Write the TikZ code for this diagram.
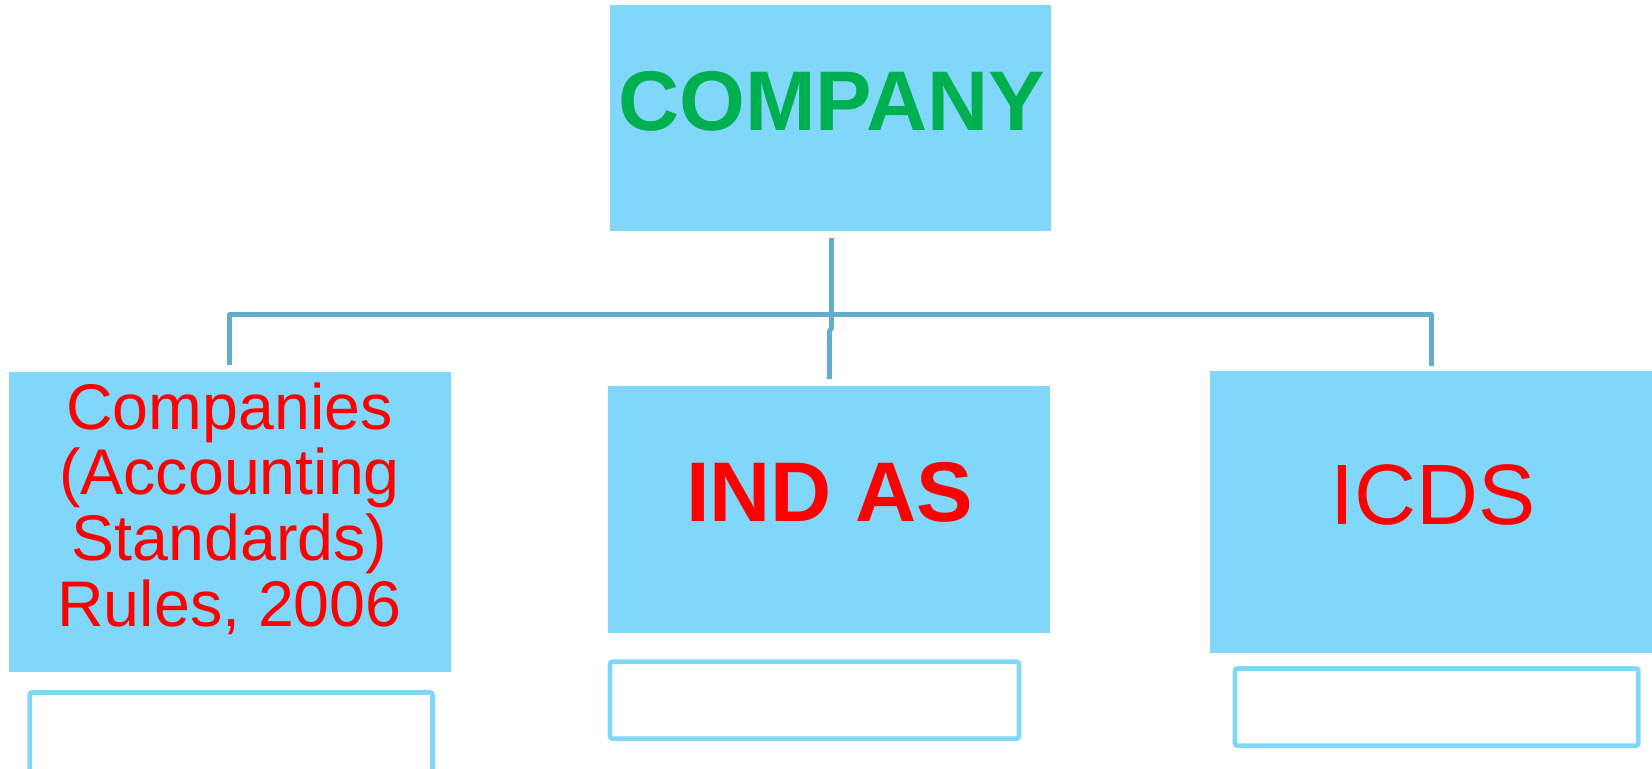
\documentclass[tikz,border=0pt]{standalone}
\usepackage{fontspec}
\setmainfont{Liberation Sans}
\usepackage{xcolor}
\usetikzlibrary{positioning}

\definecolor{boxblue}{RGB}{128,215,250}
\definecolor{linkblue}{RGB}{100,172,204}
\definecolor{headgreen}{RGB}{0,176,80}
\definecolor{textred}{RGB}{255,0,0}

\begin{document}
\begin{tikzpicture}[x=0.02cm, y=-0.02cm,
        box/.style={rectangle, fill=boxblue, inner sep=0pt, minimum width=8.84cm},
        note/.style={rectangle, draw=boxblue, line width=2.66pt, rounded corners=1.5pt, fill=white, inner sep=0pt},
        big/.style={font={\fontsize{48.2pt}{52pt}\selectfont}, anchor=base, inner sep=0pt},
        link/.style={draw=linkblue, line width=2.83pt, line join=round}
    ]
    \useasboundingbox (0,0) rectangle (1652,768);
    \clip (0,0) rectangle (1652,768);

    % Top box
    \node[box, minimum height=4.51cm] (company) at (830.5,118) {};
    \node[big, text=headgreen] (companytxt) at (831.5,130.7) {\bfseries COMPANY};

    % Lower boxes
    \node[box, minimum height=6.006cm] (rules) at (229.85,521.85) {};
    \node[text=textred, align=center, inner sep=0pt, font={\fontsize{36.7pt}{37.3pt}\selectfont}] (rulestxt) at (229.5,508.5) {Companies\\(Accounting\\Standards)\\Rules, 2006};

    \node[box, minimum height=4.934cm] (indas) at (829.35,509.35) {};
    \node[big, text=textred] (indastxt) at (829.5,521) {\bfseries IND AS};

    \node[box, minimum height=5.634cm] (icds) at (1431.15,511.85) {};
    \node[big, text=textred, font={\fontsize{48.8pt}{52pt}\selectfont}] (icdstxt) at (1433,524) {ICDS};

    % Empty boxes below
    \node[note, minimum width=8.058cm, minimum height=1.692cm] (rulesnote) at (231.15,734.7) {};
    \node[note, minimum width=8.18cm, minimum height=1.538cm] (indasnote) at (814.5,700.15) {};
    \node[note, minimum width=8.068cm, minimum height=1.546cm] (icdsnote) at (1436.7,707.05) {};

    % Connectors
    \coordinate (bus) at (830,314.5);
    \draw[link, shorten <=0.12cm, shorten >=0.1cm] (rules.north) -- (rules.north |- bus) -- (icds.north |- bus) -- (icds.north);
    \draw[link, shorten >=0.13cm] (company.south) ++(1,7) -- ++(0,90) -- ++(-2,3) -- (indas.north);

\end{tikzpicture}
\end{document}
